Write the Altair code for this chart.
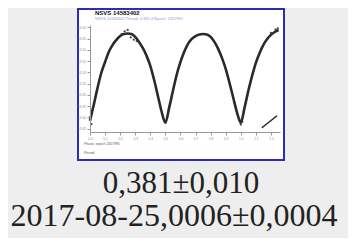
import altair as alt
import pandas as pd

# Light curve (phase vs magnitude)
phase = [0.00, 0.025, 0.05, 0.075, 0.10, 0.125, 0.15, 0.175, 0.20, 0.225,
         0.25, 0.275, 0.30, 0.325, 0.35, 0.375, 0.40, 0.425, 0.45, 0.475,
         0.50, 0.525, 0.55, 0.575, 0.60, 0.625, 0.65, 0.675, 0.70, 0.725,
         0.75, 0.775, 0.80, 0.825, 0.85, 0.875, 0.90, 0.925, 0.95, 0.975,
         1.00, 1.025, 1.05, 1.075, 1.10, 1.125, 1.15, 1.175, 1.20, 1.225, 1.25]
mag = [13.415, 13.344, 13.269, 13.202, 13.154, 13.109, 13.078, 13.056, 13.039, 13.030,
       13.028, 13.030, 13.043, 13.065, 13.092, 13.127, 13.171, 13.233, 13.304, 13.375,
       13.424, 13.357, 13.282, 13.211, 13.154, 13.109, 13.074, 13.052, 13.039, 13.032,
       13.030, 13.032, 13.043, 13.065, 13.096, 13.136, 13.185, 13.247, 13.313, 13.379,
       13.424, 13.357, 13.282, 13.216, 13.158, 13.114, 13.078, 13.052, 13.034, 13.021, 13.012]

# scattered observations around the curve
scat_phase = [0.00, 0.01, 0.21, 0.23, 0.25, 0.27, 0.29, 0.31, 0.99, 1.00, 1.01, 1.20, 1.23, 1.245]
scat_mag = [13.400, 13.430, 13.030, 13.018, 13.012, 13.045, 13.055, 13.062, 13.410, 13.432, 13.420, 13.025, 13.010, 13.005]

# oblique dash at lower right
dash_phase = [1.14]
dash_phase2 = [1.24]
dash_mag = [13.446]
dash_mag2 = [13.393]

x_ticks = [0.0, 0.1, 0.2, 0.3, 0.4, 0.5, 0.6, 0.7, 0.8, 0.9, 1.0, 1.1, 1.2]
y_ticks = [13.00, 13.05, 13.10, 13.15, 13.20, 13.25, 13.30, 13.35, 13.40, 13.45]

title_text = ["NSVS 14583402"]
subtitle_text = ["NSVS 14583402  Period: 0.381 d  Epoch: 2457991"]
note_texts = ["Phase, epoch 2457991", "Period"]
value_lines = ["0,381±0,010", "2017-08-25,0006±0,0004"]

curve = pd.DataFrame({"phase": phase, "mag": mag})
scat = pd.DataFrame({"phase": scat_phase, "mag": scat_mag})
dash = pd.DataFrame({"p1": dash_phase, "p2": dash_phase2, "m1": dash_mag, "m2": dash_mag2})

xs = alt.Scale(domain=[0, 1.26], nice=False, zero=False)
ys = alt.Scale(domain=[12.99, 13.465], reverse=True, nice=False, zero=False)

axis_common = dict(labelFontSize=3.2, labelColor="#888", domainColor="#999",
                   tickColor="#999", tickSize=3, grid=False, title=None,
                   labelFont="Liberation Sans", zindex=1, labelPadding=1.5,
                   labelOverlap=False, labelFlush=False)
ax_x = alt.Axis(values=x_ticks, format=".1f", **axis_common)
ax_y = alt.Axis(values=y_ticks, format=".2f", **axis_common)

box = alt.Chart(pd.DataFrame({"a": [0]})).mark_rect(
    fill="white", stroke="#2c2cb8", strokeWidth=2
).encode(x=alt.value(-12), x2=alt.value(194), y=alt.value(-16), y2=alt.value(135))

line = alt.Chart(curve).mark_line(color="#2a2a2a", strokeWidth=2.6, interpolate="monotone").encode(
    x=alt.X("phase:Q", scale=xs, axis=ax_x),
    y=alt.Y("mag:Q", scale=ys, axis=ax_y),
)

pts = alt.Chart(scat).mark_circle(color="#333", size=5, opacity=0.9).encode(
    x=alt.X("phase:Q", scale=xs, axis=ax_x), y=alt.Y("mag:Q", scale=ys, axis=ax_y)
)

dash_rule = alt.Chart(dash).mark_rule(color="#222", strokeWidth=1.5).encode(
    x=alt.X("p1:Q", scale=xs, axis=ax_x), x2="p2:Q",
    y=alt.Y("m1:Q", scale=ys, axis=ax_y), y2="m2:Q"
)

title = alt.Chart(pd.DataFrame({"t": title_text})).mark_text(
    align="left", baseline="alphabetic", fontSize=6, fontWeight="bold",
    color="#111", font="Liberation Sans"
).encode(x=alt.value(5), y=alt.value(-10), text="t:N")

subtitle = alt.Chart(pd.DataFrame({"t": subtitle_text})).mark_text(
    align="left", baseline="alphabetic", fontSize=4, color="#8fa2d6", font="Liberation Sans"
).encode(x=alt.value(5), y=alt.value(-5), text="t:N")

note1 = alt.Chart(pd.DataFrame({"t": [note_texts[0]]})).mark_text(
    align="left", baseline="middle", fontSize=3.5, color="#555", font="Liberation Sans"
).encode(x=alt.value(-6), y=alt.value(119), text="t:N")

note2 = alt.Chart(pd.DataFrame({"t": [note_texts[1]]})).mark_text(
    align="left", baseline="middle", fontSize=3.5, color="#555", font="Liberation Sans"
).encode(x=alt.value(-6), y=alt.value(128), text="t:N")

val1 = alt.Chart(pd.DataFrame({"t": [value_lines[0]]})).mark_text(
    align="center", baseline="alphabetic", fontSize=31, color="#222", font="Liberation Serif"
).encode(x=alt.value(91), y=alt.value(168), text="t:N")

val2 = alt.Chart(pd.DataFrame({"t": [value_lines[1]]})).mark_text(
    align="center", baseline="alphabetic", fontSize=32, color="#222", font="Liberation Serif"
).encode(x=alt.value(84), y=alt.value(201), text="t:N")

chart = alt.layer(box, line, pts, dash_rule, title, subtitle, note1, note2, val1, val2).properties(
    width=190, height=107,
    padding={"left": 82, "top": 17, "right": 68, "bottom": 106},
    autosize=alt.AutoSizeParams(type="none"),
    background="#eeeeee",
).configure_view(stroke=None)

chart.save("out.html", embed_options={"renderer": "svg", "actions": False})
